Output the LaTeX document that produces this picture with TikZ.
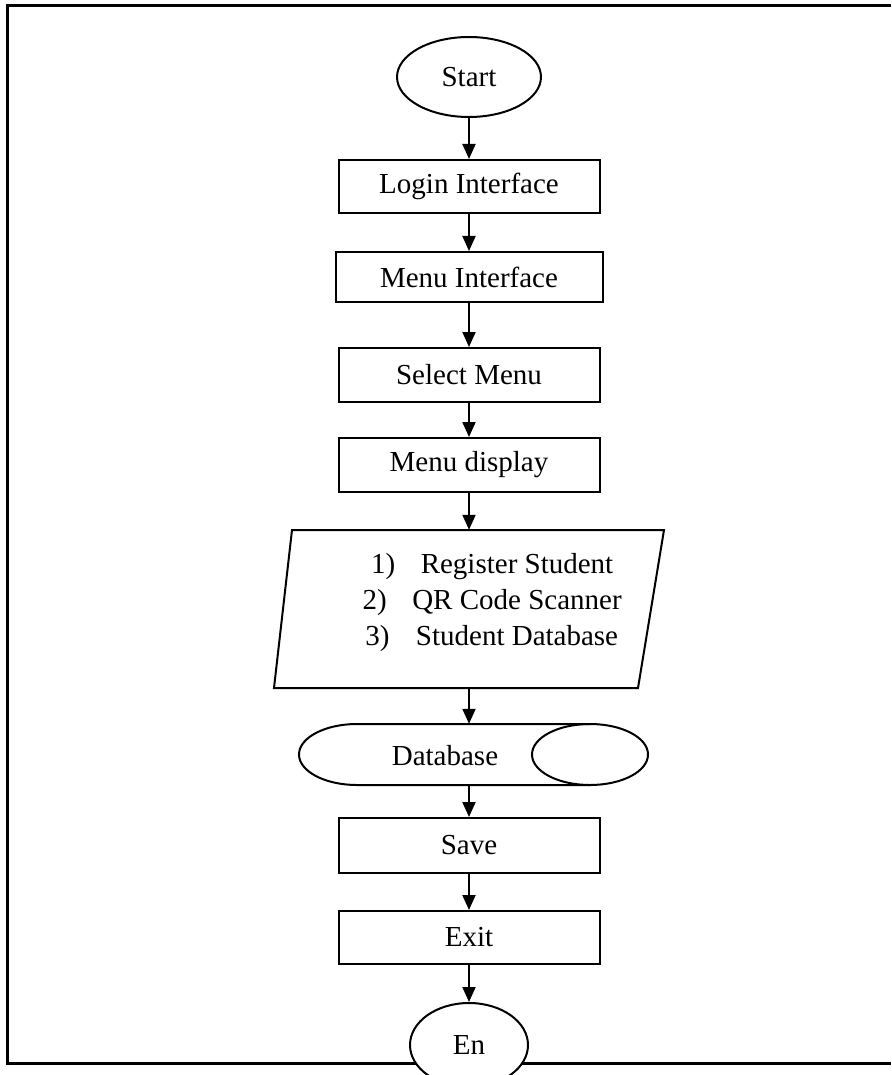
\documentclass[tikz,border=0pt]{standalone}
\usepackage{fontspec}
\setmainfont{Liberation Serif}
\usetikzlibrary{shapes.geometric,arrows.meta}
\begin{document}
\begin{tikzpicture}[x=1pt,y=-1pt,
  every node/.style={font=\fontsize{29}{34}\selectfont},
  procbox/.style={draw,line width=2pt,rectangle,minimum width=261pt,minimum height=53pt,inner sep=0pt},
  termnode/.style={draw,line width=2pt,ellipse,fill=white,inner sep=0pt},
  ghost/.style={rectangle,inner sep=0pt},
  flow/.style={line width=2pt,-{Triangle[width=13pt,length=15pt]}},
  listtext/.style={inner sep=0pt,anchor=base},
  listnum/.style={inner sep=0pt,anchor=base east}]
\useasboundingbox (0,0) rectangle (891,1075);
% frame
\draw[line width=3pt] (891,6) -- (7,6) -- (7,1063) -- (891,1063);
% nodes
\node[termnode,minimum width=144pt,minimum height=80pt] (start) at (469,77) {Start};
\node[procbox] (login) at (469,186.5) {Login Interface};
\node[procbox,minimum width=267pt,minimum height=50pt] (menu) at (469,277) {Menu Interface};
\node[procbox,minimum height=54pt] (select) at (469,375) {Select Menu};
\node[procbox,minimum height=54pt] (display) at (469,465) {Menu display};
% input/output parallelogram
\node[ghost,minimum width=350pt,minimum height=158pt] (io) at (469,609) {};
\draw[line width=2pt] (292,530) -- (664,530) -- (638,688) -- (274,688) -- cycle;
\node[listtext] (l1) at (517,573) {Register Student};
\node[listtext] (l2) at (517,609) {QR Code Scanner};
\node[listtext] (l3) at (517,645) {Student Database};
\node[listnum] (n1) at ([xshift=-25pt]l1.base west) {1)};
\node[listnum] (n2) at ([xshift=-25pt]l2.base west) {2)};
\node[listnum] (n3) at ([xshift=-26pt]l3.base west) {3)};
% database (direct access storage)
\node[ghost,minimum width=349pt,minimum height=61pt] (db) at (469,754.5) {};
\draw[line width=2pt] (590,724) -- (357,724) arc[start angle=90,end angle=270,x radius=58pt,y radius=30.5pt] -- (590,785);
\node[draw,line width=2pt,ellipse,minimum width=116pt,minimum height=61pt,inner sep=0pt] (dbcap) at (590,754.5) {};
\node (dbtext) at (445,756) {Database};
\node[procbox,minimum height=55pt] (save) at (469,845.5) {Save};
\node[procbox] (exit) at (469,937.5) {Exit};
\node[termnode,minimum width=118pt,minimum height=84pt] (en) at (469,1045) {En};
% connectors
\draw[flow] (start) -- (login);
\draw[flow] (login) -- (menu);
\draw[flow] (menu) -- (select);
\draw[flow] (select) -- (display);
\draw[flow] (display) -- (io);
\draw[flow] (io) -- (db);
\draw[flow] (db) -- (save);
\draw[flow] (save) -- (exit);
\draw[flow] (exit) -- (en);
\end{tikzpicture}
\end{document}
